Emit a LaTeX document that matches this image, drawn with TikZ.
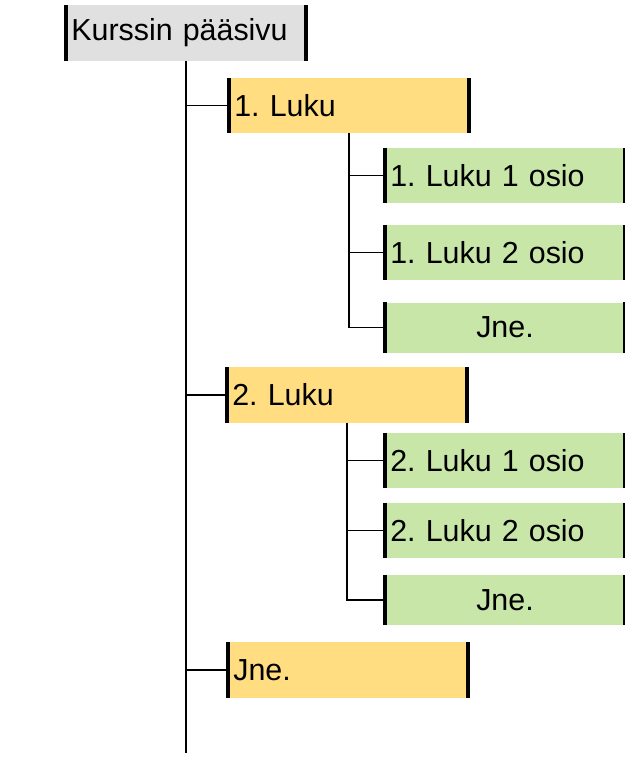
\documentclass[tikz,border=0pt]{standalone}
\usepackage{fontspec}
\setmainfont{Liberation Sans}
\usepackage{tikz}
\usetikzlibrary{calc}
\frenchspacing
\definecolor{paagray}{HTML}{E0E0E0}
\definecolor{lukuyellow}{HTML}{FFDD80}
\definecolor{osiogreen}{HTML}{C8E6A8}
\tikzset{
	kbox/.style={minimum width=180pt, minimum height=41.5pt, inner xsep=4pt, inner ysep=0pt,
		text width=172pt, align=left, font=\fontsize{22.8}{27}\selectfont},
	mainbox/.style={kbox, fill=paagray},
	chapter/.style={kbox, fill=lukuyellow},
	osio/.style={kbox, fill=osiogreen},
	lastosio/.style={osio, align=center, minimum height=37.5pt},
	edge/.style={line width=2.8pt},
	link/.style={line width=1.4pt}
}

\begin{document}
\begin{tikzpicture}[x=0.75pt,y=-0.75pt]
	\def\ox{505};
	\useasboundingbox (0,0) rectangle (625,758);
	
	%Paasivu
	\node[mainbox] (main) at (186,33) {Kurssin pääsivu};
	
	%Luvut
	\node[chapter] (luku1) at (349,105.5) {1. Luku};
	\node[chapter] (luku2) at (347,395) {2. Luku};
	\node[chapter] (luku3) at (348,670) {Jne.};
	
	%Osiot
	\node[osio] (luku1-a) at (\ox,175.5) {1. Luku 1 osio};
	\node[osio] (luku1-b) at (\ox,252.5) {1. Luku 2 osio};
	\node[lastosio] (luku1-c) at (\ox,327.5) {Jne.};
	\node[osio] (luku2-a) at (\ox,460.5) {2. Luku 1 osio};
	\node[osio] (luku2-b) at (\ox,530.5) {2. Luku 2 osio};
	\node[lastosio] (luku2-c) at (\ox,600) {Jne.};
	
	%Reunat
	\foreach \n in {main,luku1,luku2,luku3,luku1-a,luku1-b,luku1-c,luku2-a,luku2-b,luku2-c} {
		\draw[edge] (\n.north west) -- (\n.south west);
		\draw[edge] (\n.north east) -- (\n.south east);
	}
	
	%Viivat
	\coordinate (trunkend) at (186,753);
	\draw[link] (main.south) -- (trunkend);
	\foreach \n in {luku1,luku2,luku3}
		\draw[link] (\n.west) -- (\n.west -| main.south);
	\foreach \l in {luku1,luku2} {
		\draw[link] (\l.south) |- (\l-c.west);
		\draw[link] (\l-a.west) -- (\l-a.west -| \l.south);
		\draw[link] (\l-b.west) -- (\l-b.west -| \l.south);
	}
	
\end{tikzpicture}
\end{document}
